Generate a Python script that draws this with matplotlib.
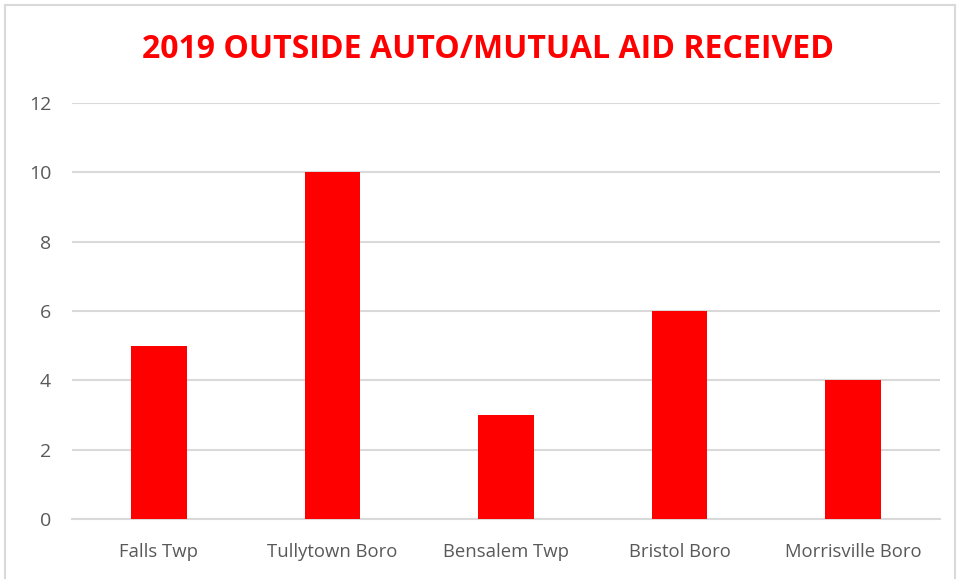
#!/usr/bin/env python3
"""2019 outside auto/mutual aid received bar chart."""

import matplotlib

matplotlib.use("Agg")
import matplotlib.patches as mpatches
import matplotlib.pyplot as plt

OUT = "out.png"

CATEGORIES = [
    "Falls Twp",
    "Tullytown Boro",
    "Bensalem Twp",
    "Bristol Boro",
    "Morrisville Boro",
]
VALUES = [5, 10, 3, 6, 4]
Y_TICKS = [0, 2, 4, 6, 8, 10, 12]

C_BAR = "#ff0000"
C_GRID = "#d9d9d9"
C_TEXT = "#595959"

plt.rcParams["font.family"] = ["Open Sans", "DejaVu Sans"]


def main():
    fig = plt.figure(figsize=(9.58, 5.79), dpi=100)
    ax = fig.add_axes([0.0752, 0.1036, 0.9058, 0.7184])

    x = range(len(CATEGORIES))
    ax.bar(x, VALUES, width=0.32, color=C_BAR, zorder=3)

    ax.set_xlim(-0.5, len(CATEGORIES) - 0.5)
    ax.set_ylim(0, 12)
    ax.set_yticks(Y_TICKS)
    ax.set_yticklabels([str(v) for v in Y_TICKS], fontsize=14, color=C_TEXT)
    ax.set_xticks(list(x))
    ax.set_xticklabels(CATEGORIES, fontsize=13.3, color=C_TEXT)
    ax.tick_params(axis="both", length=0)
    ax.tick_params(axis="y", pad=15)
    ax.tick_params(axis="x", pad=17)
    ax.grid(axis="y", color=C_GRID, lw=1.5, zorder=0)
    for side in ["top", "right", "left"]:
        ax.spines[side].set_visible(False)
    ax.spines["bottom"].set_color(C_GRID)
    ax.spines["bottom"].set_linewidth(1.5)

    fig.text(
        0.509,
        0.915,
        "2019 OUTSIDE AUTO/MUTUAL AID RECEIVED",
        ha="center",
        va="center",
        fontsize=23,
        fontweight="bold",
        color=C_BAR,
    )

    # light outer chart border
    fig.patches.append(
        mpatches.Rectangle(
            (5 / 958, -0.05),
            950 / 958,
            1.05 - 5 / 579,
            transform=fig.transFigure,
            fill=False,
            edgecolor="#d9d9d9",
            lw=1.5,
        )
    )

    fig.savefig(OUT, dpi=100)
    plt.close(fig)


if __name__ == "__main__":
    main()
